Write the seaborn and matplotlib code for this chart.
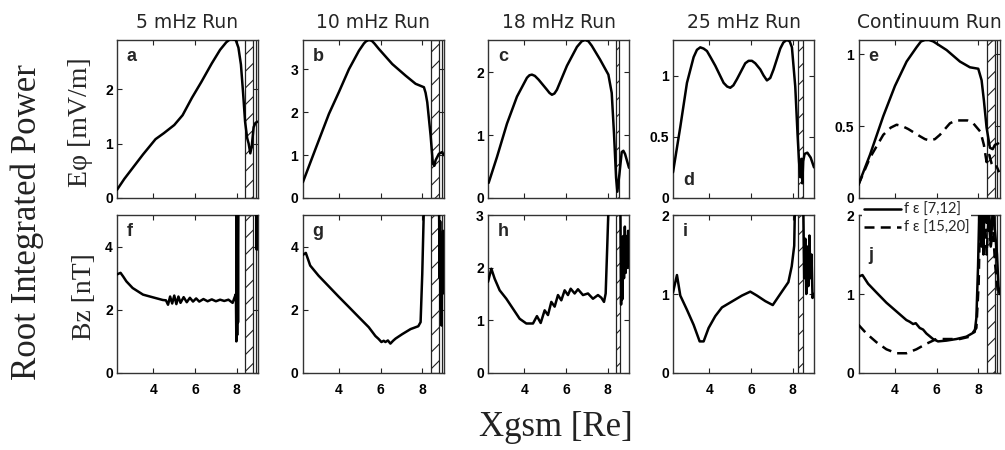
import matplotlib
matplotlib.use("Agg")
import matplotlib.pyplot as plt
from matplotlib.lines import Line2D
from matplotlib.patches import Rectangle
import pandas as pd
import seaborn as sns

# ---------------- data ----------------
titles = ["5 mHz Run", "10 mHz Run", "18 mHz Run", "25 mHz Run", "Continuum Run"]
letters_top = ["a", "b", "c", "d", "e"]
letters_bot = ["f", "g", "h", "i", "j"]
legend_labels = ["f ε [7,12]", "f ε [15,20]"]
x_ticks = [4, 6, 8]

a_x = [2.25, 2.6, 2.9, 3.5, 4.1, 4.5, 5.0, 5.4, 5.85, 6.3, 6.8, 7.2, 7.5, 7.7, 7.95, 8.08, 8.2, 8.3, 8.4, 8.5, 8.57, 8.65, 8.72, 8.81, 8.9, 9.0]
a_y = [0.15, 0.35, 0.5, 0.8, 1.08, 1.19, 1.34, 1.52, 1.84, 2.13, 2.47, 2.72, 2.86, 2.92, 2.9, 2.76, 2.45, 1.95, 1.4, 1.1, 1.0, 0.82, 0.95, 1.3, 1.38, 1.4]

b_x = [2.27, 2.88, 3.52, 4.0, 4.48, 4.96, 5.2, 5.3, 5.44, 5.58, 5.7, 5.92, 6.56, 7.2, 7.68, 8.08, 8.16, 8.24, 8.4, 8.51, 8.58, 8.64, 8.8, 8.96, 9.02]
b_y = [0.37, 1.15, 1.96, 2.47, 3.0, 3.43, 3.6, 3.65, 3.68, 3.66, 3.6, 3.47, 3.12, 2.85, 2.66, 2.58, 2.45, 2.23, 1.46, 0.8, 0.75, 0.88, 1.03, 1.07, 1.0]

c_x = [2.28, 2.68, 3.16, 3.64, 4.12, 4.24, 4.36, 4.5, 4.68, 5.08, 5.2, 5.32, 5.44, 5.56, 6.04, 6.52, 6.75, 6.91, 7.07, 7.23, 7.63, 8.03, 8.19, 8.3, 8.4, 8.46, 8.56, 8.67, 8.75, 8.83, 9.02]
c_y = [0.24, 0.65, 1.18, 1.61, 1.91, 1.95, 1.96, 1.94, 1.88, 1.72, 1.67, 1.64, 1.66, 1.72, 2.1, 2.4, 2.49, 2.51, 2.49, 2.42, 2.2, 1.96, 1.67, 1.02, 0.32, 0.1, 0.38, 0.73, 0.75, 0.7, 0.48]

d_x = [2.25, 2.6, 2.92, 3.24, 3.4, 3.56, 3.72, 3.88, 4.05, 4.28, 4.68, 4.85, 5.0, 5.15, 5.32, 5.72, 5.88, 6.04, 6.2, 6.44, 6.6, 6.76, 6.92, 7.08, 7.25, 7.4, 7.55, 7.71, 7.85, 7.96, 8.12, 8.23, 8.3, 8.36, 8.42, 8.46, 8.5, 8.57, 8.7, 8.86, 9.02]
d_y = [0.21, 0.58, 0.94, 1.15, 1.21, 1.23, 1.22, 1.2, 1.15, 1.08, 0.94, 0.91, 0.9, 0.92, 0.97, 1.1, 1.12, 1.12, 1.1, 1.05, 1.0, 0.96, 0.98, 1.05, 1.14, 1.22, 1.27, 1.29, 1.28, 1.23, 0.91, 0.52, 0.3, 0.17, 0.32, 0.12, 0.3, 0.36, 0.37, 0.33, 0.25]

e_x = [2.24, 2.8, 3.44, 4.0, 4.56, 5.04, 5.25, 5.44, 5.64, 5.84, 6.48, 7.12, 7.6, 8.0, 8.16, 8.27, 8.4, 8.56, 8.69, 8.8, 8.96]
e_solid = [0.09, 0.3, 0.57, 0.78, 0.95, 1.05, 1.09, 1.1, 1.1, 1.09, 1.03, 0.95, 0.91, 0.9, 0.82, 0.68, 0.49, 0.35, 0.34, 0.37, 0.38]
e_dx = [2.24, 2.8, 3.44, 3.8, 4.08, 4.36, 4.64, 5.2, 5.44, 5.68, 5.92, 6.16, 6.64, 6.92, 7.2, 7.48, 7.76, 8.11, 8.27, 8.4, 8.53, 8.64, 8.75, 8.88, 9.0]
e_dash = [0.09, 0.28, 0.44, 0.49, 0.51, 0.5, 0.48, 0.43, 0.41, 0.4, 0.41, 0.44, 0.52, 0.54, 0.54, 0.54, 0.52, 0.46, 0.37, 0.25, 0.3, 0.24, 0.21, 0.22, 0.18]

f_x = [2.25, 2.42, 2.55, 2.7, 3.0, 3.5, 4.0, 4.45, 4.6, 4.7, 4.8, 4.9, 5.0, 5.1, 5.2, 5.3, 5.45, 5.6, 5.75, 5.9, 6.05, 6.2, 6.4, 6.6, 6.8, 7.0, 7.2, 7.4, 7.6, 7.8, 7.9, 7.96, 7.98, 8.0, 8.02, 8.04, 8.06, 8.08, 8.1, 8.5, 8.93, 8.96, 8.99]
f_y = [3.12, 3.17, 3.05, 2.9, 2.69, 2.48, 2.39, 2.31, 2.3, 2.16, 2.42, 2.2, 2.45, 2.18, 2.42, 2.22, 2.4, 2.24, 2.38, 2.26, 2.36, 2.26, 2.34, 2.27, 2.33, 2.27, 2.32, 2.28, 2.32, 2.22, 2.4, 2.5, 1.0, 5.5, 1.2, 5.5, 1.6, 5.5, 6.0, 6.0, 6.0, 3.9, 6.0]

g_x = [2.25, 2.41, 2.62, 3.02, 3.5, 3.98, 4.46, 4.95, 5.43, 5.75, 5.9, 6.04, 6.15, 6.23, 6.35, 6.47, 6.6, 6.72, 7.04, 7.44, 7.81, 7.92, 8.0, 8.08, 8.5, 8.8, 8.83, 8.86, 8.89, 8.91, 8.93, 8.95, 8.97, 9.0]
g_y = [3.73, 3.8, 3.4, 3.08, 2.75, 2.42, 2.1, 1.77, 1.45, 1.17, 1.08, 0.98, 1.02, 0.98, 1.03, 0.93, 1.02, 1.09, 1.23, 1.39, 1.48, 1.61, 3.13, 5.3, 6.0, 6.0, 3.0, 4.8, 2.0, 4.0, 1.5, 3.5, 2.5, 4.5]

h_x = [2.25, 2.41, 2.57, 2.81, 3.13, 3.45, 3.77, 4.09, 4.41, 4.6, 4.78, 4.97, 5.13, 5.29, 5.45, 5.61, 5.77, 5.93, 6.09, 6.22, 6.41, 6.57, 6.81, 7.05, 7.29, 7.53, 7.69, 7.82, 7.9, 7.98, 8.04, 8.5, 8.6, 8.64, 8.67, 8.7, 8.74, 8.78, 8.82, 8.86, 8.9, 8.94, 8.98, 9.0]
h_y = [1.73, 1.98, 1.79, 1.57, 1.41, 1.22, 1.03, 0.94, 0.94, 1.08, 0.95, 1.19, 1.1, 1.35, 1.26, 1.48, 1.38, 1.57, 1.48, 1.6, 1.51, 1.59, 1.48, 1.51, 1.41, 1.48, 1.43, 1.35, 1.51, 2.46, 3.2, 3.5, 3.5, 1.3, 2.3, 1.4, 2.6, 1.8, 2.78, 1.9, 2.6, 2.0, 2.7, 2.3]

i_x = [2.25, 2.44, 2.6, 2.92, 3.24, 3.53, 3.72, 3.96, 4.28, 4.6, 4.92, 5.24, 5.56, 5.96, 6.28, 6.68, 7.04, 7.4, 7.79, 7.95, 8.07, 8.11, 8.3, 8.5, 8.55, 8.6, 8.65, 8.7, 8.75, 8.8, 8.85, 8.9, 8.95, 9.0]
i_y = [1.02, 1.24, 0.98, 0.8, 0.61, 0.4, 0.4, 0.57, 0.72, 0.83, 0.88, 0.93, 0.98, 1.03, 0.98, 0.91, 0.86, 1.0, 1.15, 1.35, 1.61, 2.2, 2.5, 2.2, 1.2, 1.7, 1.0, 1.6, 1.1, 1.74, 1.2, 1.5, 0.95, 1.0]

j_x = [2.25, 2.44, 2.71, 3.11, 3.59, 4.07, 4.55, 4.7, 4.87, 5.0, 5.19, 5.35, 5.51, 5.83, 6.07, 6.47, 6.95, 7.43, 7.83, 7.91, 7.99, 8.07, 8.15, 8.2, 8.25, 8.3, 8.4, 8.5, 8.6, 8.7, 8.8, 8.9, 8.97, 9.02]
j_solid = [1.22, 1.24, 1.13, 1.02, 0.89, 0.78, 0.67, 0.65, 0.62, 0.63, 0.57, 0.55, 0.5, 0.43, 0.4, 0.41, 0.43, 0.46, 0.52, 0.7, 1.35, 2.3, 1.6, 2.2, 1.5, 2.2, 1.9, 2.2, 1.6, 2.1, 1.8, 1.5, 1.1, 1.0]
j_dx = [2.25, 2.63, 3.11, 3.59, 4.07, 4.55, 5.03, 5.51, 5.99, 6.47, 7.11, 7.59, 7.91, 8.02, 8.1, 8.2, 8.3, 8.4, 8.5, 8.6, 8.7, 8.8, 8.95]
j_dash = [0.61, 0.5, 0.39, 0.3, 0.25, 0.25, 0.3, 0.37, 0.43, 0.43, 0.43, 0.46, 0.57, 1.13, 2.2, 1.7, 2.1, 1.5, 2.0, 1.6, 1.9, 1.4, 1.0]

# y-axis ticks / limits per panel
y_ticks = {"a": [0, 1, 2], "b": [0, 1, 2, 3], "c": [0, 1, 2], "d": [0, 0.5, 1], "e": [0, 0.5, 1],
           "f": [0, 2, 4], "g": [0, 2, 4], "h": [0, 1, 2, 3], "i": [0, 1, 2], "j": [0, 1, 2]}
y_tick_labels = {"a": ["0", "1", "2"], "b": ["0", "1", "2", "3"], "c": ["0", "1", "2"],
                 "d": ["0", "0.5", "1"], "e": ["0", "0.5", "1"], "f": ["0", "2", "4"],
                 "g": ["0", "2", "4"], "h": ["0", "1", "2", "3"], "i": ["0", "1", "2"], "j": ["0", "1", "2"]}
y_max = {"a": 2.9, "b": 3.68, "c": 2.51, "d": 1.29, "e": 1.1,
         "f": 5.0, "g": 5.0, "h": 3.0, "i": 2.0, "j": 2.0}
# hatched (excluded) region in Xgsm
hatch_span = {"a": (8.4, 8.8), "b": (8.4, 8.82), "c": (8.4, 8.56), "d": (8.23, 8.5), "e": (8.42, 8.78),
              "f": (8.4, 8.8), "g": (8.4, 8.82), "h": (8.41, 8.57), "i": (8.23, 8.5), "j": (8.4, 8.78)}
edge_line = {"a": 8.92, "b": 8.95, "e": 8.9, "f": 8.9, "g": 8.95, "j": 8.9}

series = {
    "a": [(a_x, a_y, "-")], "b": [(b_x, b_y, "-")], "c": [(c_x, c_y, "-")], "d": [(d_x, d_y, "-")],
    "e": [(e_x, e_solid, "-"), (e_dx, e_dash, "--")],
    "f": [(f_x, f_y, "-")], "g": [(g_x, g_y, "-")], "h": [(h_x, h_y, "-")], "i": [(i_x, i_y, "-")],
    "j": [(j_x, j_solid, "-"), (j_dx, j_dash, "--")],
}

# ---------------- figure ----------------
sns.set_theme(style="ticks")
plt.rcParams["font.family"] = ["Liberation Sans", "DejaVu Sans"]
plt.rcParams["hatch.linewidth"] = 0.8

W, H = 1005, 450
fig = plt.figure(figsize=(W / 100, H / 100), dpi=100)
lefts = [117, 302.5, 488, 673, 858.5]
rows = [(40, 198), (215, 373)]
ax_w = 141

for r, (top_px, bot_px) in enumerate(rows):
    for c, left in enumerate(lefts):
        key = (letters_top if r == 0 else letters_bot)[c]
        ax = fig.add_axes([left / W, 1 - bot_px / H, ax_w / W, (bot_px - top_px) / H])
        lo, hi = hatch_span[key]
        ax.add_patch(Rectangle((lo, 0), hi - lo, 1, transform=ax.get_xaxis_transform(),
                               facecolor="none", edgecolor="#222222", hatch="//", lw=0.9, zorder=1))
        if key in edge_line:
            ax.axvline(edge_line[key], color="#222222", lw=0.9, zorder=1)
        for xs, ys, ls in series[key]:
            df = pd.DataFrame({"x": xs, "y": ys})
            sns.lineplot(data=df, x="x", y="y", ax=ax, color="black", lw=1.8,
                         estimator=None, sort=False, legend=False, zorder=3)
            if ls == "--":
                ax.lines[-1].set_dashes((4, 2.5))
        ax.set_xlim(2.25, 9.02)
        ax.set_ylim(0, y_max[key])
        ax.set_xticks(x_ticks)
        ax.set_yticks(y_ticks[key])
        ax.set_yticklabels(y_tick_labels[key])
        ax.set_xlabel("")
        ax.set_ylabel("")
        ax.tick_params(direction="in", top=True, right=True, length=3.5, width=0.8,
                       labelsize=10, pad=3, colors="#222222")
        ax.tick_params(axis="x", pad=7)
        if r == 0:
            ax.set_xticklabels([])
            ax.set_title(titles[c], fontsize=13.5, family="DejaVu Sans", pad=9)
        else:
            ax.set_xticklabels([str(t) for t in x_ticks])
        for lab in ax.get_xticklabels() + ax.get_yticklabels():
            lab.set_fontweight("bold")
            lab.set_color("black")
        for sp in ax.spines.values():
            sp.set_color("#333333")
            sp.set_linewidth(1.0)
        # panel letter
        if key == "d":
            ax.text(0.07, 0.06, key, transform=ax.transAxes, fontsize=13, fontweight="bold",
                    ha="left", va="bottom")
        elif key == "j":
            ax.text(0.07, 0.8, key, transform=ax.transAxes, fontsize=13, fontweight="bold",
                    ha="left", va="top")
        else:
            ax.text(0.07, 0.95, key, transform=ax.transAxes, fontsize=13, fontweight="bold",
                    ha="left", va="top")
        if key == "j":
            handles = [Line2D([], [], color="black", lw=1.8),
                       Line2D([], [], color="black", lw=1.8, dashes=(4, 2.5))]
            leg = ax.legend(handles, legend_labels, loc="upper left", bbox_to_anchor=(0.025, 1.09),
                            frameon=True, facecolor="white", edgecolor="none", framealpha=1,
                            fancybox=False, borderpad=0.15, borderaxespad=0, handlelength=2.5,
                            handletextpad=0.2, labelspacing=0.25,
                            prop={"family": "Lato", "size": 10.5})
            leg.set_zorder(10)

fig.text(80.5 / W, 1 - 122 / H, "Eφ [mV/m]", rotation=90, ha="center", va="center",
         family="Liberation Serif", fontsize=20)
fig.text(84 / W, 1 - 297 / H, "Bz [nT]", rotation=90, ha="center", va="center",
         family="Liberation Serif", fontsize=20)
fig.text(27.5 / W, 1 - 222 / H, "Root Integrated Power", rotation=90, ha="center", va="center",
         family="Liberation Serif", fontsize=25, color="#222222")
fig.text(556 / W, 1 - 428 / H, "Xgsm [Re]", ha="center", va="center",
         family="Liberation Serif", fontsize=25, color="#222222")

fig.savefig("out.png", dpi=100)
